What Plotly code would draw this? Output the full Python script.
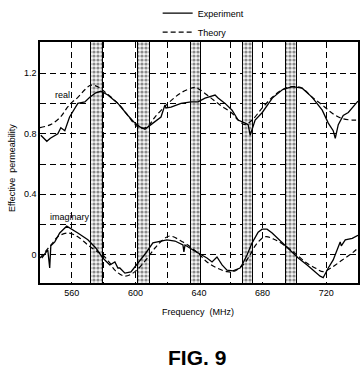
import plotly.graph_objects as go

# ---- data ----
freq_real_exp = [540.5, 544.3, 546.5, 551.2, 553.1, 555.6, 558.6, 561.8, 563.8, 568.2, 571.3, 575.1, 578.3,
                 582.7, 589.0, 595.3, 599.7, 602.8, 606.0, 609.8, 616.1, 618.6, 619.2, 622.4, 628.7, 635.0,
                 639.4, 643.8, 650.1, 652.0, 656.4, 660.8, 664.6, 669.0, 670.9, 672.2, 675.3, 679.8, 686.1,
                 692.4, 698.6, 704.9, 711.2, 717.5, 721.3, 724.4, 725.7, 727.6, 730.7, 733.9, 738.3, 740.0]
real_exp = [0.79, 0.75, 0.77, 0.80, 0.84, 0.82, 0.91, 0.97, 1.00, 1.01, 1.04, 1.07, 1.08,
            1.055, 1.00, 0.92, 0.87, 0.845, 0.83, 0.86, 0.91, 0.99, 0.97, 0.975, 1.00, 1.01,
            1.01, 1.035, 1.055, 1.035, 1.00, 0.955, 0.89, 0.87, 0.86, 0.79, 0.89, 0.94, 1.035,
            1.09, 1.11, 1.10, 1.04, 0.955, 0.87, 0.82, 0.77, 0.86, 0.92, 0.94, 1.00, 1.015]

freq_real_th = [540.0, 546.6, 552.9, 557.3, 560.4, 563.8, 568.2, 572.0, 576.4, 580.8, 589.0, 595.3, 599.7,
                604.0, 608.0, 612.3, 620.5, 628.7, 635.0, 637.5, 640.6, 647.0, 653.2, 660.8, 664.6, 669.0,
                673.4, 679.8, 686.1, 692.4, 698.6, 704.9, 711.2, 717.5, 723.8, 730.1, 736.4, 740.0]
real_th = [0.84, 0.86, 0.91, 0.975, 1.01, 1.04, 1.09, 1.12, 1.11, 1.075, 1.00, 0.92, 0.86,
           0.835, 0.85, 0.91, 1.00, 1.07, 1.10, 1.105, 1.09, 1.04, 0.99, 0.935, 0.89, 0.86,
           0.89, 0.97, 1.04, 1.09, 1.11, 1.10, 1.04, 0.99, 0.935, 0.90, 0.89, 0.89]

freq_imag_exp = [541.1, 544.9, 546.1, 546.8, 549.3, 552.4, 554.3, 556.8, 563.8, 570.1, 575.1, 579.5, 583.9,
                 587.1, 589.0, 590.2, 593.4, 597.2, 601.6, 606.6, 611.0, 619.8, 624.9, 629.9, 630.5, 631.2,
                 636.2, 639.4, 645.0, 648.2, 651.3, 654.5, 657.6, 661.4, 665.8, 667.7, 670.2, 673.4, 677.2,
                 679.7, 682.8, 686.0, 696.1, 702.4, 708.0, 713.1, 716.2, 718.1, 719.4, 721.3, 724.4, 727.0,
                 728.8, 729.5, 732.0, 736.4, 740.0]
imag_exp = [-0.02, 0.033, -0.086, 0.06, 0.086, 0.145, 0.165, 0.19, 0.145, 0.10, 0.046, -0.02, -0.066,
            -0.046, -0.086, -0.086, -0.12, -0.112, -0.053, 0.013, 0.08, 0.10, 0.092, 0.066, 0.02, 0.066,
            0.033, 0.013, -0.02, -0.046, -0.013, -0.066, -0.10, -0.105, -0.086, -0.053, 0.0, 0.08, 0.15,
            0.17, 0.17, 0.145, 0.046, -0.02, -0.066, -0.11, -0.14, -0.15, -0.12, -0.086, -0.033, 0.033,
            0.086, 0.06, 0.10, 0.11, 0.13]

freq_imag_th = [540.0, 544.0, 548.0, 551.2, 557.5, 563.8, 570.1, 576.4, 579.5, 583.9, 587.1, 593.4, 599.7,
                606.6, 612.3, 617.3, 621.7, 629.9, 636.2, 640.6, 645.0, 651.3, 657.6, 661.4, 667.7, 672.1,
                676.0, 681.6, 687.9, 696.1, 702.4, 706.8, 713.1, 718.1, 723.8, 730.1, 736.4, 740.0]
imag_th = [-0.02, 0.03, 0.08, 0.12, 0.145, 0.12, 0.066, 0.02, 0.0, -0.053, -0.10, -0.14, -0.11,
           -0.033, 0.046, 0.10, 0.125, 0.085, 0.04, 0.0, -0.046, -0.086, -0.11, -0.11, -0.066, 0.0,
           0.07, 0.12, 0.10, 0.046, -0.007, -0.046, -0.086, -0.11, -0.08, -0.033, 0.013, 0.046]

band_start = [572.2, 601.6, 634.8, 667.5, 694.6]
band_end = [579.5, 609.0, 641.3, 674.2, 701.5]

x_ticks = [560, 600, 640, 680, 720]
y_ticks = [0, 0.4, 0.8, 1.2]
y_tick_text = ["0", "0.4", "0.8", "1.2"]

FONT = "Liberation Sans, Arial, sans-serif"

band_center = [(a + b) / 2 for a, b in zip(band_start, band_end)]
band_width = [b - a for a, b in zip(band_start, band_end)]

fig = go.Figure()

fig.add_trace(go.Bar(
    x=band_center, y=[1.7] * len(band_center), base=-0.25, width=band_width,
    marker=dict(color="white",
                pattern=dict(shape=".", fgcolor="#222222", bgcolor="#f4f4f4", size=4, solidity=0.5),
                line=dict(color="black", width=1)),
    showlegend=False, hoverinfo="skip"))

line_solid = dict(color="black", width=1.3)
line_dash = dict(color="black", width=1.2, dash="5px,3px")

fig.add_trace(go.Scatter(x=freq_real_exp, y=real_exp, mode="lines", line=line_solid, name="Experiment"))
fig.add_trace(go.Scatter(x=freq_real_th, y=real_th, mode="lines", line=line_dash, name="Theory",
                         line_shape="spline"))
fig.add_trace(go.Scatter(x=freq_imag_exp, y=imag_exp, mode="lines", line=line_solid, showlegend=False))
fig.add_trace(go.Scatter(x=freq_imag_th, y=imag_th, mode="lines", line=line_dash, showlegend=False,
                         line_shape="spline"))

grid = dict(showgrid=True, gridcolor="black", gridwidth=1, griddash="6px,4px")

fig.update_xaxes(range=[540, 740], tickvals=x_ticks, ticks="", showline=True, linecolor="black",
                 linewidth=1.5, mirror=True, zeroline=False,
                 tickfont=dict(family=FONT, size=9, color="black"),
                 minor=dict(tick0=540, dtick=20, **grid), **grid)
fig.update_yaxes(range=[-0.185, 1.405], tickvals=y_ticks, ticktext=y_tick_text, ticks="",
                 showline=True, linecolor="black", linewidth=1.5, mirror=True, zeroline=False,
                 tickfont=dict(family=FONT, size=9, color="black"),
                 minor=dict(tick0=0, dtick=0.2, **grid), **grid)

fig.add_annotation(x=554.3, y=1.055, text="real", showarrow=False, xref="x", yref="y",
                   xanchor="center", yanchor="middle",
                   font=dict(family=FONT, size=9, color="black"))
fig.add_annotation(x=559, y=0.25, text="imaginary", showarrow=False, xref="x", yref="y",
                   xanchor="center", yanchor="middle",
                   font=dict(family=FONT, size=9, color="black"))
fig.add_annotation(x=0.497, y=-0.12, xref="paper", yref="paper", text="Frequency  (MHz)",
                   xanchor="center", yanchor="middle",
                   showarrow=False, font=dict(family=FONT, size=9, color="black"))
fig.add_annotation(x=-0.088, y=0.477, xref="paper", yref="paper", text="Effective  permeability",
                   xanchor="center", yanchor="middle",
                   textangle=-90, showarrow=False, font=dict(family=FONT, size=9, color="black"))
fig.add_annotation(x=0.495, y=-0.311, xref="paper", yref="paper", text="<b>FIG. 9</b>",
                   xanchor="center", yanchor="middle",
                   showarrow=False, font=dict(family=FONT, size=21, color="black"))

fig.update_layout(
    width=363, height=382,
    margin=dict(l=40, r=5, t=42, b=99, autoexpand=False),
    plot_bgcolor="white", paper_bgcolor="white",
    bargap=0,
    legend=dict(x=0.37, y=1.18, xanchor="left", yanchor="top", bgcolor="rgba(0,0,0,0)",
                font=dict(family=FONT, size=9, color="black"), tracegroupgap=0),
)

fig.write_html("out.html")
